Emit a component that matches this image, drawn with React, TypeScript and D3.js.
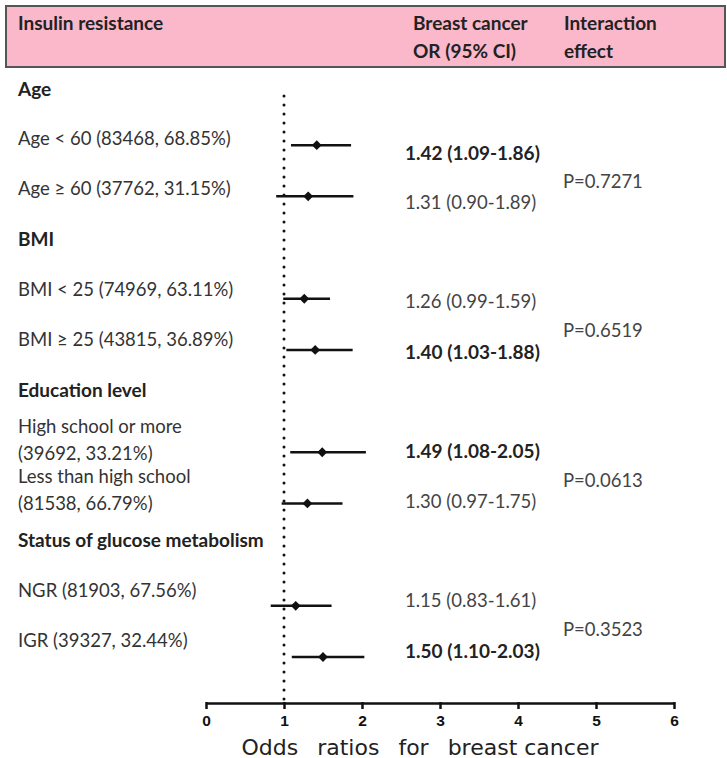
import React, { useEffect, useRef } from "react";
import * as d3 from "d3";

const groups = ["Age", "BMI", "Education level", "Status of glucose metabolism"];
const subgroupLabels = [
  ["Age < 60 (83468, 68.85%)"],
  ["Age \u2265 60 (37762, 31.15%)"],
  ["BMI < 25 (74969, 63.11%)"],
  ["BMI \u2265 25 (43815, 36.89%)"],
  ["High school or more", "(39692, 33.21%)"],
  ["Less than high school", "(81538, 66.79%)"],
  ["NGR (81903, 67.56%)"],
  ["IGR (39327, 32.44%)"],
];
const groupOf = [0, 0, 1, 1, 2, 2, 3, 3];
const oddsRatios = [1.42, 1.31, 1.26, 1.40, 1.49, 1.30, 1.15, 1.50];
const ciLow = [1.09, 0.90, 0.99, 1.03, 1.08, 0.97, 0.83, 1.10];
const ciHigh = [1.86, 1.89, 1.59, 1.88, 2.05, 1.75, 1.61, 2.03];
const pValues = ["P=0.7271", "P=0.6519", "P=0.0613", "P=0.3523"];
const xTicks = [0, 1, 2, 3, 4, 5, 6];
const titleWords = ["Odds", "ratios", "for", "breast cancer"];

const W = 727, H = 758;
const FONT = "Lato, 'Open Sans', sans-serif";

const App = () => {
  const svgRef = useRef<SVGSVGElement>(null);

  useEffect(() => {
    const svg = d3.select(svgRef.current).attr("width", W).attr("height", H);
    svg.selectAll("*").remove();

    const x = d3.scaleLinear().domain([0, 6]).range([206, 674]);
    // row slots: group header takes one slot, then its two subgroups
    const slot = (i: number) => groupOf[i] * 3 + (i % 2) + 1;
    const yPoint = d3.scaleLinear().domain([0, 11]).range([94, 657]);
    const yLabel = d3.scaleLinear().domain([0, 11]).range([88, 640]);
    const yValue = d3.scaleLinear().domain([1, 11]).range([152, 650]);

    // header band
    svg.append("rect").attr("x", 6).attr("y", 6).attr("width", 719).attr("height", 61)
      .attr("fill", "#fbb8ca").attr("stroke", "#555").attr("stroke-width", 2);
    const header = svg.append("g").attr("font-family", FONT).attr("font-size", 19)
      .attr("font-weight", 700).attr("fill", "#222").attr("dominant-baseline", "central");
    header.append("text").attr("x", 18).attr("y", 22).text("Insulin resistance");
    header.append("text").attr("x", 413).attr("y", 22).text("Breast cancer");
    header.append("text").attr("x", 413).attr("y", 50).text("OR (95% CI)");
    header.append("text").attr("x", 564).attr("y", 22).text("Interaction");
    header.append("text").attr("x", 564).attr("y", 50).text("effect");

    // left labels
    const labels = svg.append("g").attr("font-family", FONT).attr("font-size", 18.5)
      .attr("fill", "#333").attr("dominant-baseline", "central");
    groups.forEach((g, gi) => {
      labels.append("text").attr("x", 18).attr("y", yLabel(gi * 3))
        .attr("font-weight", 700).attr("font-size", 19).attr("fill", "#222").text(g);
    });
    subgroupLabels.forEach((lines, i) => {
      const cy = yLabel(slot(i));
      lines.forEach((line, li) => {
        const off = lines.length > 1 ? (li - 0.5) * 27 : 0;
        labels.append("text").attr("x", 18).attr("y", cy + off).text(line);
      });
    });

    // reference line at OR = 1
    svg.append("line").attr("x1", x(1)).attr("x2", x(1)).attr("y1", 96).attr("y2", 700)
      .attr("stroke", "#111").attr("stroke-width", 3).attr("stroke-linecap", "round")
      .attr("stroke-dasharray", "0 9");

    // CI lines and points
    const rows = oddsRatios.map((or, i) => ({ or, lo: ciLow[i], hi: ciHigh[i], i }));
    svg.selectAll(".ci").data(rows).enter().append("line")
      .attr("x1", d => x(d.lo)).attr("x2", d => x(d.hi))
      .attr("y1", d => yPoint(slot(d.i))).attr("y2", d => yPoint(slot(d.i)))
      .attr("stroke", "#111").attr("stroke-width", 2.5);
    svg.selectAll(".pt").data(rows).enter().append("path")
      .attr("d", d3.symbol().type(d3.symbolSquare).size(48)())
      .attr("transform", d => `translate(${x(d.or)},${yPoint(slot(d.i))}) rotate(45)`)
      .attr("fill", "#111");

    // OR text
    const vals = svg.append("g").attr("font-family", FONT).attr("font-size", 18.5)
      .attr("dominant-baseline", "central");
    rows.forEach(d => {
      const sig = d.lo > 1;
      vals.append("text").attr("x", 405).attr("y", yValue(slot(d.i)))
        .attr("font-weight", sig ? 700 : 400).attr("font-size", sig ? 19 : 18.5)
        .attr("fill", sig ? "#222" : "#444")
        .text(`${d.or.toFixed(2)} (${d.lo.toFixed(2)}-${d.hi.toFixed(2)})`);
    });
    pValues.forEach((p, gi) => {
      const cy = (yValue(gi * 3 + 1) + yValue(gi * 3 + 2)) / 2 + 4;
      vals.append("text").attr("x", 563).attr("y", cy).attr("fill", "#444").text(p);
    });

    // x axis
    const axis = svg.append("g").attr("transform", "translate(0,703)")
      .call(d3.axisBottom(x).tickValues(xTicks).tickSize(6).tickSizeOuter(0).tickPadding(6)
        .tickFormat(d3.format("d")));
    axis.select(".domain").attr("stroke", "#111").attr("stroke-width", 2.5);
    axis.selectAll(".tick line").attr("stroke", "#111").attr("stroke-width", 2.5).attr("y1", -1);
    axis.selectAll(".tick text").attr("font-family", "'Liberation Sans', Arial, sans-serif")
      .attr("font-size", 15.5).attr("font-weight", 700).attr("fill", "#111");

    const title = svg.append("text").attr("x", 420).attr("y", 747).attr("text-anchor", "middle")
      .attr("dominant-baseline", "central").attr("font-family", "'DejaVu Sans', sans-serif")
      .attr("font-size", 22).attr("fill", "#222");
    titleWords.forEach((w, wi) => {
      title.append("tspan").attr("dx", wi === 0 ? 0 : 12).text((wi === 0 ? "" : " ") + w);
    });
  }, []);

  return <svg ref={svgRef} style={{ position: "absolute", left: 0, top: 0, background: "#fff" }}></svg>;
};

export default App;
